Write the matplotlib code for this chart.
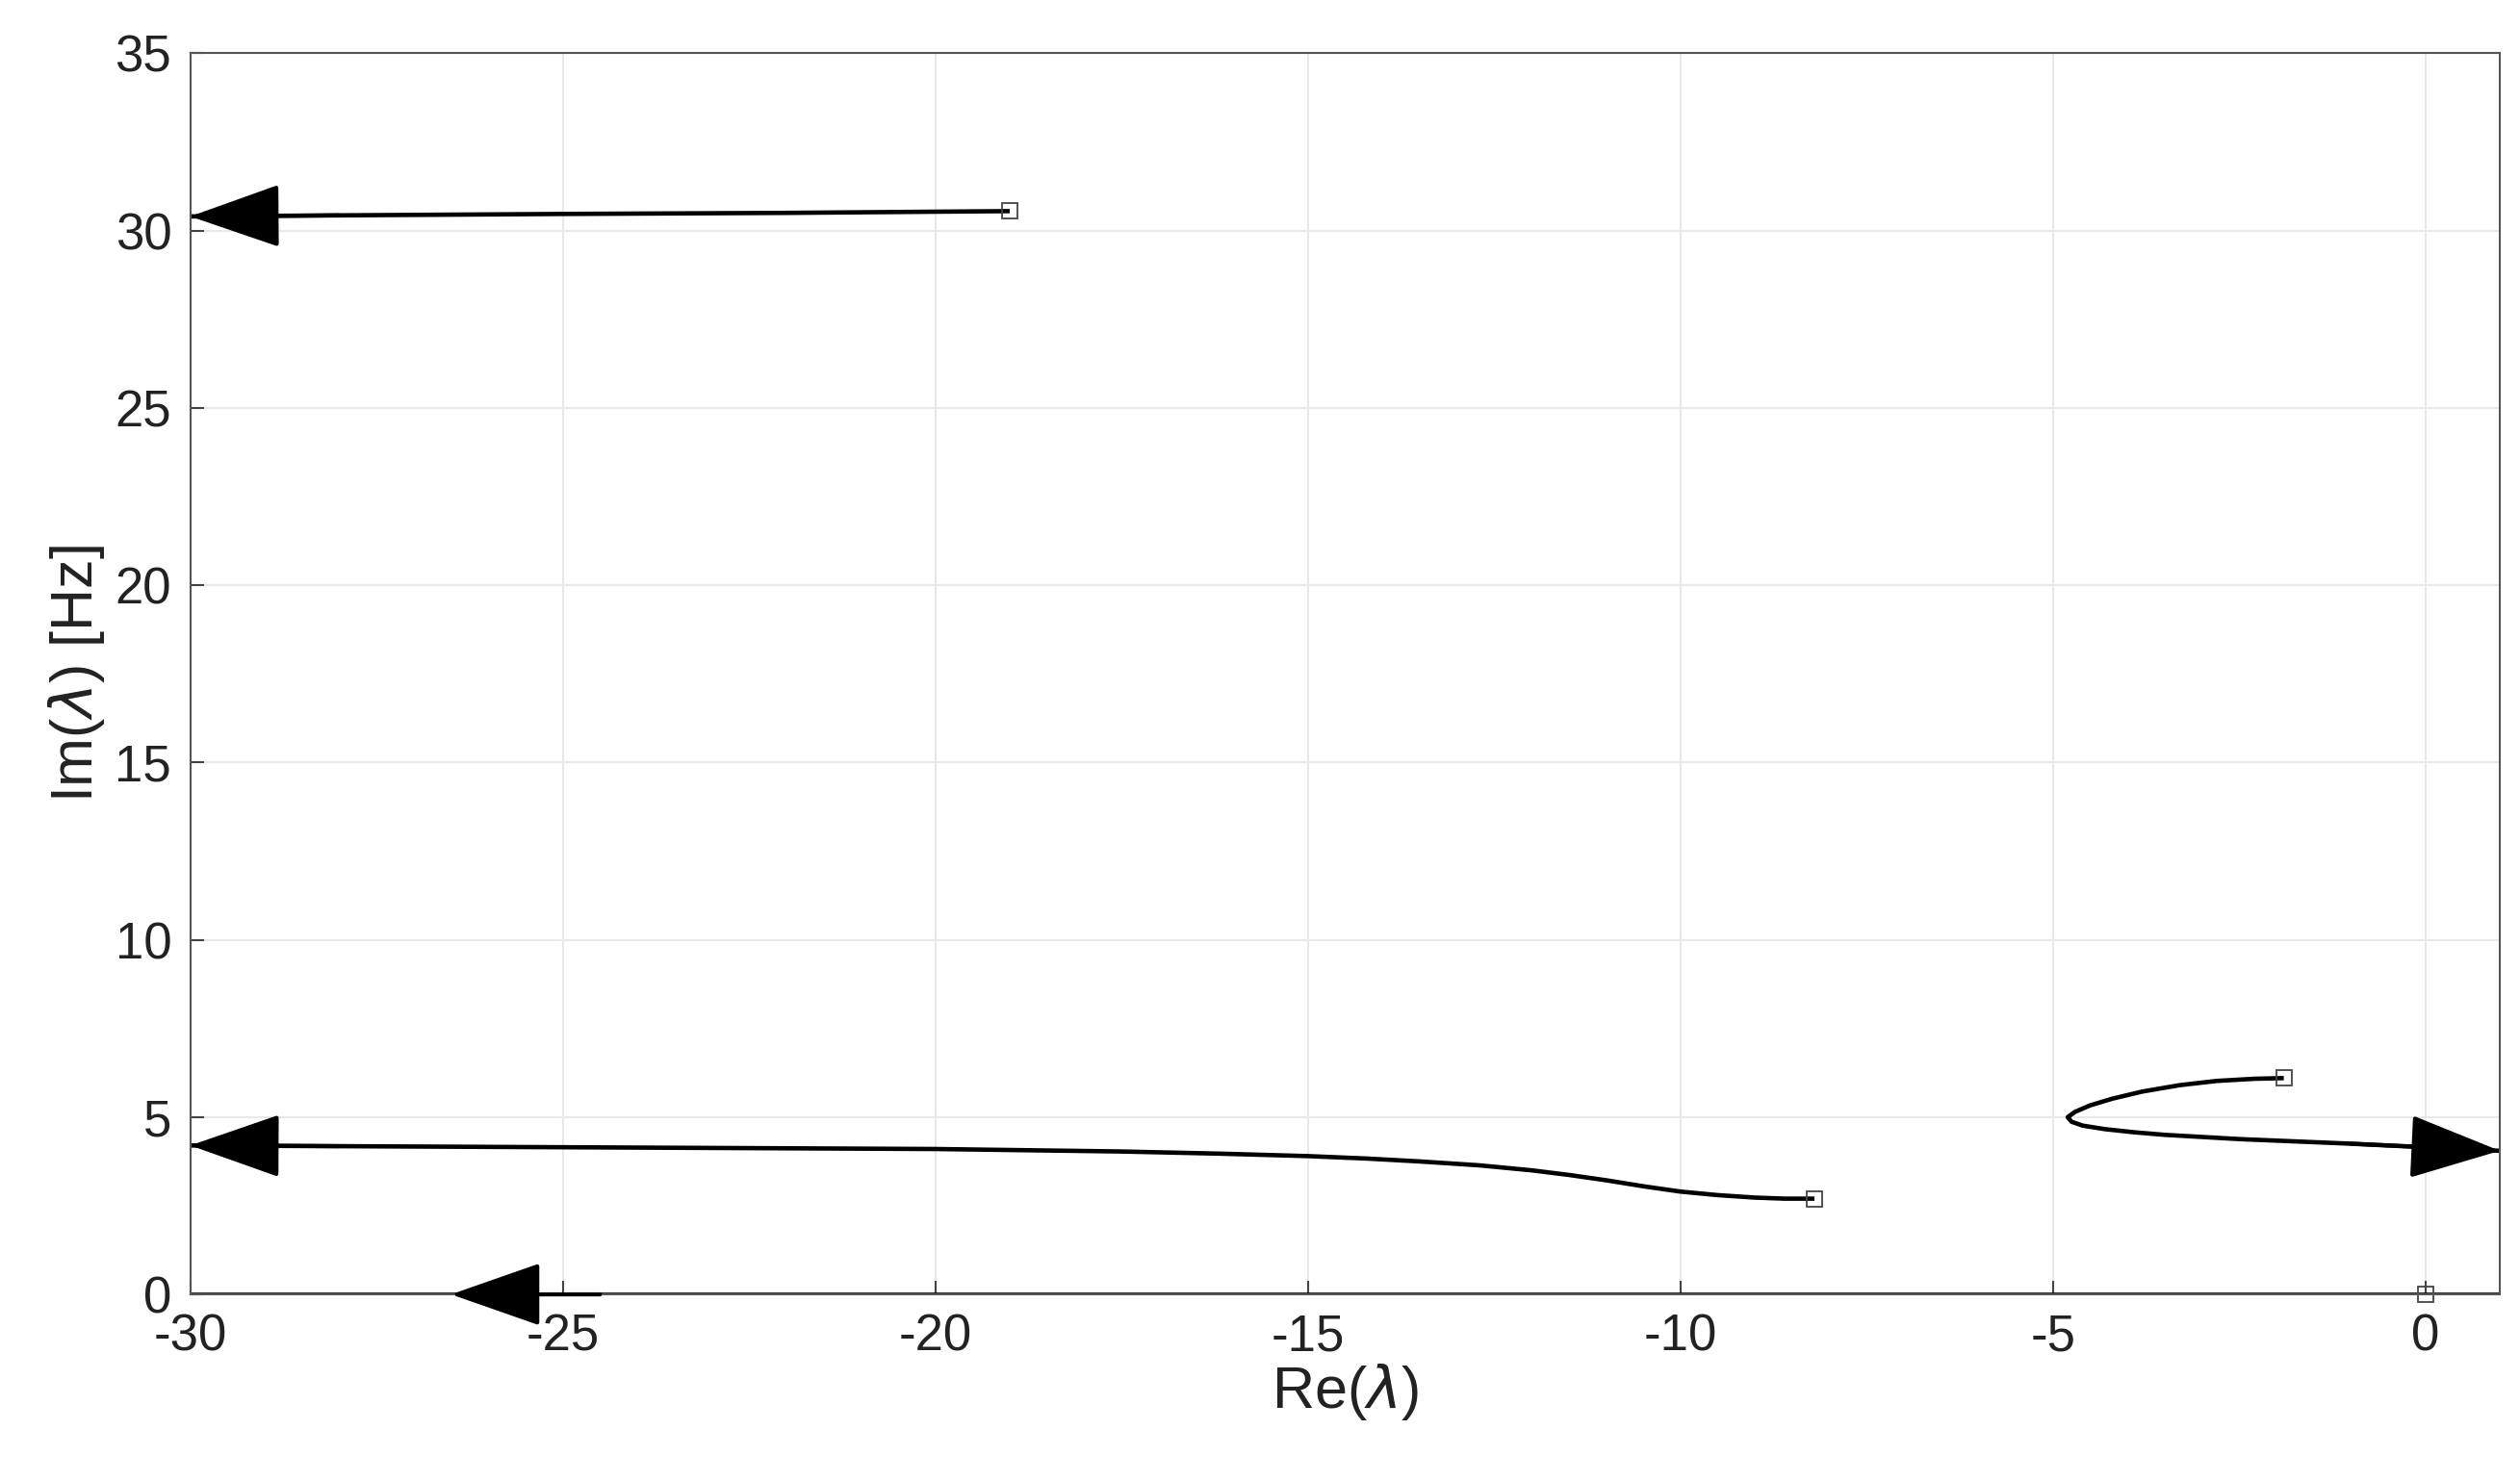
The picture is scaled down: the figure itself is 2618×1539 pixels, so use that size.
import numpy as np
import matplotlib.pyplot as plt

plt.rcParams['font.family'] = ['Liberation Sans', 'DejaVu Sans']
plt.rcParams['axes.unicode_minus'] = False

# root locus branches (Re, Im), start -> end
b1_re = [-19.0, -22.0, -25.0, -28.0, -30.0]
b1_im = [30.55, 30.5, 30.47, 30.43, 30.4]
b2_re = [-8.2, -8.6, -9.0, -9.5, -10.0, -10.5, -11.0, -11.5, -12.0, -12.7, -13.5, -14.2,
         -15.0, -16.2, -17.5, -20.0, -25.0, -30.0]
b2_im = [2.7, 2.7, 2.73, 2.8, 2.9, 3.05, 3.22, 3.37, 3.5, 3.64, 3.75, 3.83,
         3.9, 3.97, 4.03, 4.1, 4.15, 4.2]
b3_re = [-1.9, -2.3, -2.8, -3.3, -3.8, -4.2, -4.5, -4.7, -4.8, -4.75, -4.6, -4.3,
         -3.9, -3.5, -2.5, -1.0, 0.0, 1.0]
b3_im = [6.1, 6.08, 6.02, 5.9, 5.72, 5.52, 5.33, 5.15, 5.0, 4.87, 4.76, 4.66,
         4.57, 4.5, 4.38, 4.25, 4.15, 4.05]
b4_re = [1.0, 0.0, -10.0, -20.0, -30.0]
b4_im = [0.0, 0.0, 0.0, 0.0, 0.0]
start_re = [-19.0, -8.2, -1.9, 0.0]
start_im = [30.55, 2.7, 6.1, 0.0]
arrows = [((-28.0, 30.43), (-30.0, 30.4)),
          ((-28.0, 4.18), (-30.0, 4.2)),
          ((-1.0, 4.25), (1.0, 4.05)),
          ((-24.5, 0.0), (-26.5, 0.0))]

fig = plt.figure(figsize=(26.18, 15.39), dpi=100)
ax = fig.add_axes([0.0755, 0.126, 0.9165, 0.838])

for re, im in [(b1_re, b1_im), (b2_re, b2_im), (b3_re, b3_im), (b4_re, b4_im)]:
    ax.plot(re, im, color='black', linewidth=3.3, solid_capstyle='butt')
ax.plot(start_re, start_im, 's', markersize=11, markerfacecolor='none',
        markeredgecolor='#444444', markeredgewidth=1.3, clip_on=False)

for (x0, y0), (x1, y1) in arrows:
    ax.annotate('', xy=(x1, y1), xytext=(x0, y0),
                arrowprops=dict(arrowstyle='-|>,head_length=1.2,head_width=0.42',
                                color='black', lw=3, mutation_scale=50,
                                shrinkA=0, shrinkB=0))

ax.set_xlim(-30, 1)
ax.set_ylim(0, 35)
ax.set_xticks(np.arange(-30, 1, 5))
ax.set_yticks(np.arange(0, 36, 5))
ax.grid(True, color='#e8e8e8', linewidth=1.5)
ax.tick_params(labelsize=38, direction='in', length=10, width=1.5, pad=14,
               color='#444444', labelcolor='#222222')
for s in ax.spines.values():
    s.set_color('#555555')
    s.set_linewidth1 = None
    s.set_linewidth(1.5)
ax.set_xlabel(r'Re($\lambda$)', fontsize=44, labelpad=0, color='#222222')
ax.set_ylabel(r'Im($\lambda$) [Hz]', fontsize=44, labelpad=6, color='#222222')

fig.savefig('out.png', dpi=100)
